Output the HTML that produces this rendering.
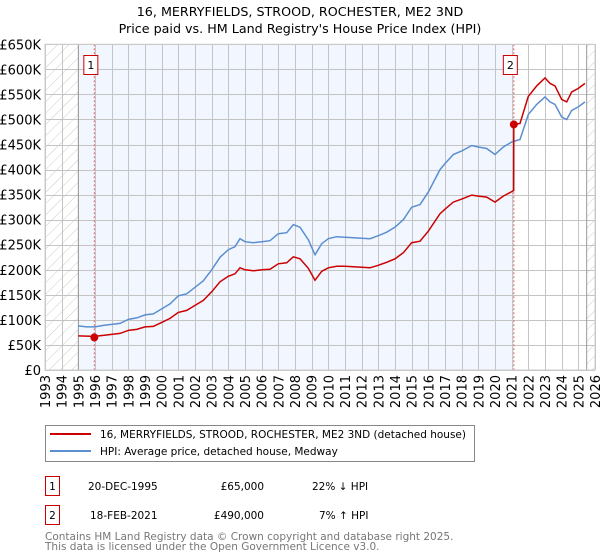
<!DOCTYPE html>
<html><head><meta charset="utf-8"><style>
body{margin:0;background:#fff;font-family:"DejaVu Sans","Liberation Sans",sans-serif}
svg{display:block}
</style></head><body>
<svg id="c" width="600" height="560" xmlns="http://www.w3.org/2000/svg">
<defs><pattern id="hatch" width="8" height="8" patternUnits="userSpaceOnUse" patternTransform="rotate(45)"><line x1="0" y1="0" x2="0" y2="8" stroke="#ccc" stroke-width="1"/></pattern></defs>
<text x="300" y="16" text-anchor="middle" font-size="12.7">16, MERRYFIELDS, STROOD, ROCHESTER, ME2 3ND</text>
<text x="300" y="33" text-anchor="middle" font-size="12.7">Price paid vs. HM Land Registry's House Price Index (HPI)</text>
<g id="plot"></g>
<rect x="45.5" y="425.5" width="429" height="36" fill="#fff" stroke="#888"/>
<line x1="50" y1="434" x2="91" y2="434" stroke="#cc0000" stroke-width="2"/>
<text x="100" y="438" font-size="10.5">16, MERRYFIELDS, STROOD, ROCHESTER, ME2 3ND (detached house)</text>
<line x1="50" y1="451" x2="91" y2="451" stroke="#5b8fd0" stroke-width="2"/>
<text x="100" y="455" font-size="10.5">HPI: Average price, detached house, Medway</text>
<g font-size="10.5">
<rect x="45.5" y="476.5" width="14" height="19" fill="#fff" stroke="#cc0000"/>
<text x="52.5" y="490" text-anchor="middle">1</text>
<text x="88" y="490">20-DEC-1995</text>
<text x="264" y="490" text-anchor="end">£65,000</text>
<text x="312" y="490">22% ↓ HPI</text>
<rect x="45.5" y="505.5" width="14" height="19" fill="#fff" stroke="#cc0000"/>
<text x="52.5" y="519" text-anchor="middle">2</text>
<text x="90" y="519">18-FEB-2021</text>
<text x="264" y="519" text-anchor="end">£490,000</text>
<text x="319" y="519">7% ↑ HPI</text>
</g>
<text x="45" y="540" font-size="10.5" fill="#777">Contains HM Land Registry data © Crown copyright and database right 2025.</text>
<text x="45" y="550" font-size="10.5" fill="#777">This data is licensed under the Open Government Licence v3.0.</text>
</svg>
<script>
const hpiDates=[1995,1995.5,1996,1996.5,1997,1997.5,1998,1998.5,1999,1999.5,2000,2000.5,2001,2001.5,2002,2002.5,2003,2003.5,2004,2004.4,2004.7,2005,2005.5,2006,2006.5,2007,2007.5,2007.9,2008.3,2008.8,2009.2,2009.6,2010,2010.5,2011,2011.5,2012,2012.5,2013,2013.5,2014,2014.5,2015,2015.5,2016,2016.7,2017,2017.5,2018,2018.6,2019,2019.5,2020,2020.5,2021,2021.5,2022,2022.5,2023,2023.3,2023.6,2024,2024.3,2024.6,2025,2025.4];
const hpiValues=[88,86,86,89,91,93,101,104,110,112,122,132,148,152,165,178,200,225,240,246,262,256,254,256,258,272,274,290,285,260,230,252,262,266,265,264,263,262,268,275,285,300,325,330,355,400,412,430,437,448,445,442,430,445,455,460,510,530,545,535,530,505,500,518,525,535];
const redDates=[1995,1995.96,1996.5,1997,1997.5,1998,1998.5,1999,1999.5,2000,2000.5,2001,2001.5,2002,2002.5,2003,2003.5,2004,2004.4,2004.7,2005,2005.5,2006,2006.5,2007,2007.5,2007.9,2008.3,2008.8,2009.2,2009.6,2010,2010.5,2011,2011.5,2012,2012.5,2013,2013.5,2014,2014.5,2015,2015.5,2016,2016.7,2017,2017.5,2018,2018.6,2019,2019.5,2020,2020.5,2021.12,2021.13,2021.5,2022,2022.5,2023,2023.3,2023.6,2024,2024.3,2024.6,2025,2025.4];
const redValues=[68,67,69,71,73,79,81,86,87,95,103,115,119,129,139,156,176,187,192,204,200,198,200,201,212,214,226,222,203,179,197,204,207,207,206,205,204,209,215,222,234,254,257,277,312,321,335,341,349,347,345,335,347,358,490,492,546,567,583,572,567,540,535,555,562,572];
const sales=[{n:'1',d:1995.96,v:65},{n:'2',d:2021.13,v:490}];
const yTicks=[0,50,100,150,200,250,300,350,400,450,500,550,600,650];
const yTickLabels=['£0','£50K','£100K','£150K','£200K','£250K','£300K','£350K','£400K','£450K','£500K','£550K','£600K','£650K'];
const xYears=[1993,1994,1995,1996,1997,1998,1999,2000,2001,2002,2003,2004,2005,2006,2007,2008,2009,2010,2011,2012,2013,2014,2015,2016,2017,2018,2019,2020,2021,2022,2023,2024,2025,2026];
const X0=45,X1=595,Y0=370,Y1=44.3;
const xs=t=>X0+(t-1993)/(2026-1993)*(X1-X0);
const ys=v=>Y0-v/650*(Y0-Y1);
const NS='http://www.w3.org/2000/svg';
const g=document.getElementById('plot');
function mk(tag,attrs){const e=document.createElementNS(NS,tag);for(const k in attrs)e.setAttribute(k,attrs[k]);g.appendChild(e);return e;}
let e;
e=mk('rect',{x:X0,y:Y1,width:X1-X0,height:Y0-Y1,fill:'#fff'});


e=mk('rect',{x:xs(1995),y:Y1,width:xs(2021.13)-xs(1995),height:Y0-Y1,fill:'#f2f6ff'});


e=mk('rect',{x:X0,y:Y1,width:xs(1995)-X0,height:Y0-Y1,fill:'url(#hatch)'});


e=mk('rect',{x:xs(2025.5),y:Y1,width:X1-xs(2025.5),height:Y0-Y1,fill:'url(#hatch)'});


yTicks.forEach((v,i)=>{
 const yy=Math.round(ys(v))+0.5;
 e=mk('line',{x1:X0,x2:X1,y1:yy,y2:yy,stroke:'#c4c4c4','stroke-width':1});
 
 
 e=mk('text',{x:X0-4,y:ys(v)+5,'text-anchor':'end','font-size':13});
 e.textContent=yTickLabels[i];
 
 
});
xYears.forEach(y=>{
 const xx=Math.round(xs(y))+0.5;
 e=mk('line',{x1:xx,x2:xx,y1:Y1,y2:Y0,stroke:'#c4c4c4','stroke-width':1});
 
 
 e=mk('text',{x:0,y:0,'text-anchor':'end','font-size':13,transform:`translate(${xs(y)+5},${Y0+5}) rotate(-90)`});
 e.textContent=y;
 
 
});
[1995,2025.5].forEach(y=>{
 e=mk('line',{x1:xs(y),x2:xs(y),y1:Y1,y2:Y0,stroke:'#999','stroke-width':1});
 
 
});
sales.forEach(s=>{
 e=mk('line',{x1:xs(s.d),x2:xs(s.d),y1:Y1,y2:Y0,stroke:'#e06060','stroke-width':1,'stroke-dasharray':'2,2'});
 
 
});
const pts=(d,v)=>d.map((t,i)=>xs(t).toFixed(1)+','+ys(v[i]).toFixed(1)).join(' ');
e=mk('polyline',{points:pts(hpiDates,hpiValues),fill:'none',stroke:'#5b8fd0','stroke-width':1.5});


e=mk('polyline',{points:pts(redDates,redValues),fill:'none',stroke:'#cc0000','stroke-width':1.5});


sales.forEach(s=>{
 e=mk('circle',{cx:xs(s.d),cy:ys(s.v),r:4,fill:'#cc0000'});
 
 
 e=mk('rect',{x:xs(s.d)-10.5,y:55.5,width:14,height:19,fill:'#fff',stroke:'#cc0000'});
 
 
 e=mk('text',{x:xs(s.d)-3.5,y:69,'text-anchor':'middle','font-size':11});
 e.textContent=s.n;
 
 
});
e=mk('rect',{x:X0,y:Y1,width:X1-X0,height:Y0-Y1,fill:'none',stroke:'#ccc'});


</script>
</body></html>
